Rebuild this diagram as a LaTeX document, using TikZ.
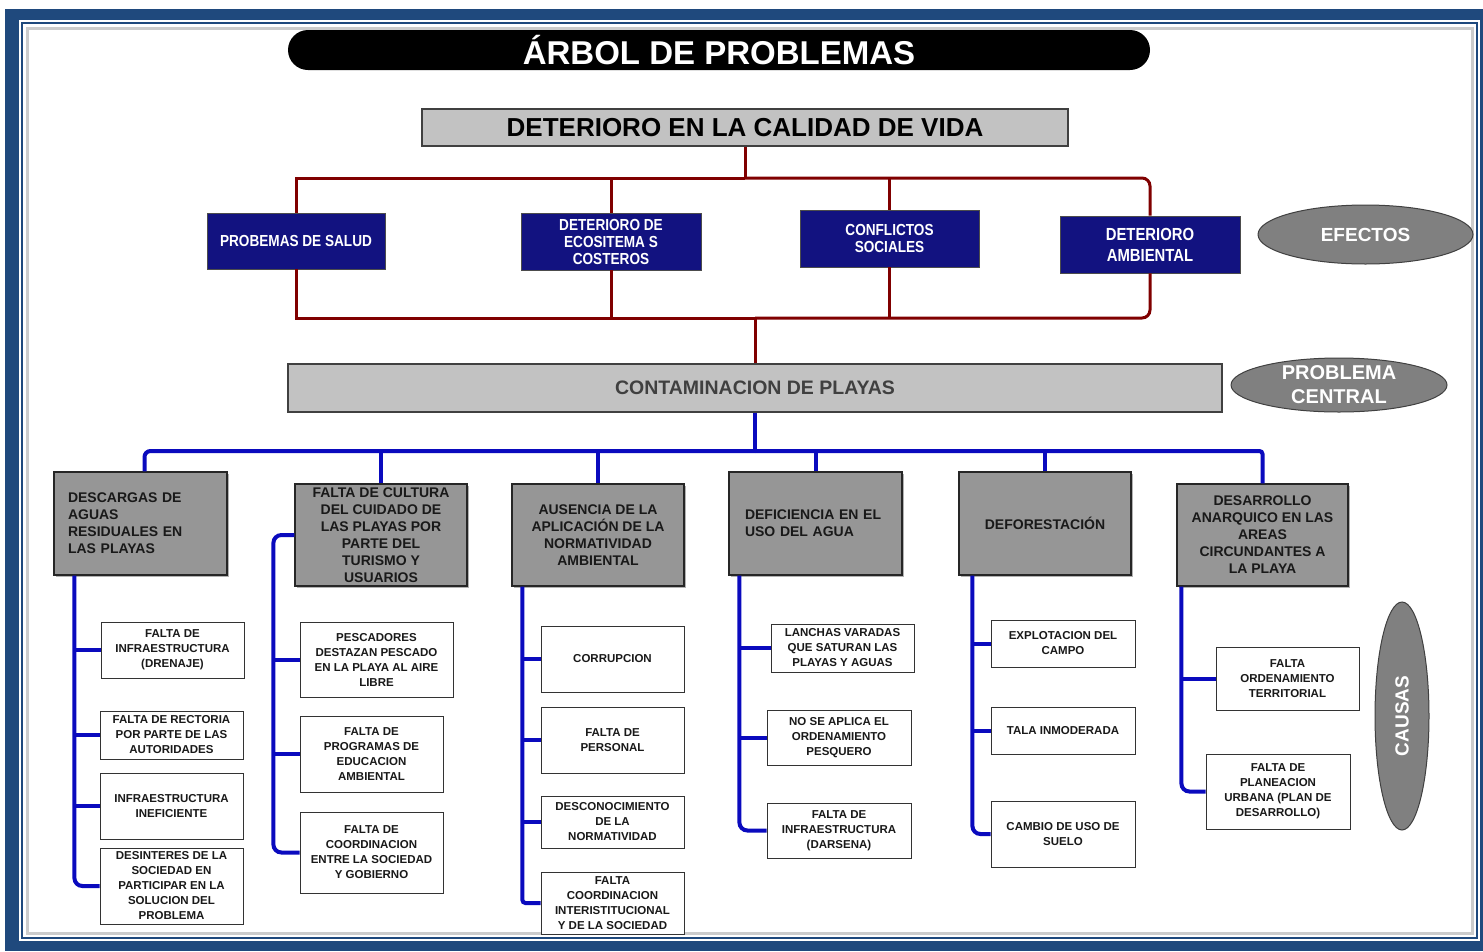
\documentclass[tikz,border=0pt]{standalone}
\usepackage{fontspec}
\setmainfont{Liberation Sans}
\newfontfamily\narrowfont[FakeStretch=0.85]{Liberation Sans}
\usetikzlibrary{shapes.geometric,shadows}
\definecolor{frameblue}{RGB}{31,73,125}
\definecolor{navybox}{RGB}{18,18,128}
\definecolor{causegray}{RGB}{150,150,150}
\definecolor{lightgrayb}{RGB}{194,194,194}
\definecolor{linered}{RGB}{128,0,0}
\definecolor{lineblue}{RGB}{10,10,190}
\definecolor{ovalgray}{RGB}{128,128,128}
\tikzset{
  effbox/.style={draw=black!70, line width=0.8pt, fill=navybox, text=white, align=center,
    font=\narrowfont\bfseries\fontsize{16}{17}\selectfont, inner sep=1pt},
  causebox/.style={draw=black!85, line width=1.2pt, fill=causegray, align=center, text=black!90,
    font=\bfseries\fontsize{14}{17}\selectfont, inner sep=1pt,
    drop shadow={shadow xshift=2pt, shadow yshift=-2pt, opacity=0.3, fill=black}},
  subbox/.style={draw=black!80, line width=1pt, fill=white, align=center, text=black!90,
    font=\bfseries\fontsize{11.5}{15}\selectfont, inner sep=1pt},
  redline/.style={draw=linered, line width=3pt},
  blueline/.style={draw=lineblue, line width=4pt},
  ovalbox/.style={ellipse, draw=black!75, line width=1pt, fill=ovalgray, inner sep=0pt},
  ovaltext/.style={text=white, align=center, inner sep=0pt}
}
\begin{document}
\begin{tikzpicture}[x=1pt,y=-1pt]
\useasboundingbox (0,0) rectangle (1483,951);
% frame
\fill[white] (0,0) rectangle (1483,951);
\fill[frameblue] (5,9) rectangle (1483,951);
\fill[white] (19,20) rectangle (1480,941);
\draw[frameblue, line width=2.5pt] (22,23) rectangle (1477,938);
\fill[white] (24,25) rectangle (1475,936);
\draw[black!20, line width=3pt] (27,28) rectangle (1472,933);

% title
\node[fill=black, rounded corners=20pt, minimum width=862, minimum height=40, text=white,
  font=\bfseries\fontsize{33}{36}\selectfont, inner sep=0pt] (title) at (719,50) {ÁRBOL DE PROBLEMAS};

% top effect
\node[draw=black!75, line width=1.2pt, fill=lightgrayb, minimum width=646, minimum height=37,
  font=\bfseries\fontsize{26}{28}\selectfont, inner sep=0pt] (top) at (745,127.5) {DETERIORO EN LA CALIDAD DE VIDA};

% effects
\node[effbox, minimum width=178, minimum height=56] (e1) at (296,241) {PROBEMAS DE SALUD};
\node[effbox, minimum width=180, minimum height=57] (e2) at (611,241.5) {DETERIORO DE\\ECOSITEMA S\\COSTEROS};
\node[effbox, minimum width=179, minimum height=57] (e3) at (889.5,238.5) {CONFLICTOS\\SOCIALES};
\node[effbox, minimum width=180, minimum height=57, font=\narrowfont\bfseries\fontsize{17.5}{21}\selectfont] (e4) at (1150,244.5) {DETERIORO\\AMBIENTAL};

% central problem
\node[draw=black!75, line width=1.2pt, fill=lightgrayb, minimum width=934, minimum height=48,
  font=\bfseries\fontsize{19.5}{22}\selectfont, text=black!75, inner sep=0pt] (central) at (755,388) {CONTAMINACION DE PLAYAS};

% ovals
\node[ovalbox, minimum width=215, minimum height=59] (ef) at (1365.5,234.5) {};
\node[ovaltext, font=\bfseries\fontsize{19}{22}\selectfont] (eft) at (ef) {EFECTOS};
\node[ovalbox, minimum width=216, minimum height=54] (pc) at (1339,385) {};
\node[ovaltext, font=\bfseries\fontsize{20}{24}\selectfont] (pct) at (pc) {PROBLEMA\\CENTRAL};
\node[ovalbox, minimum width=54, minimum height=228] (ca) at (1402,716) {};
\node[ovaltext, rotate=90, font=\bfseries\fontsize{19}{22}\selectfont] (cat) at (ca) {CAUSAS};

% causes
\node[causebox, minimum width=173, minimum height=103, text width=145, align=left] (c1) at (140.5,523.5) {DESCARGAS DE\\AGUAS\\RESIDUALES EN\\LAS PLAYAS};
\node[causebox, minimum width=172, minimum height=102] (c2) at (381,535) {FALTA DE CULTURA\\DEL CUIDADO DE\\LAS PLAYAS POR\\PARTE DEL\\TURISMO Y\\USUARIOS};
\node[causebox, minimum width=172, minimum height=102] (c3) at (598,535) {AUSENCIA DE LA\\APLICACIÓN DE LA\\NORMATIVIDAD\\AMBIENTAL};
\node[causebox, minimum width=173, minimum height=103, text width=141, align=left] (c4) at (815.5,523.5) {DEFICIENCIA EN EL\\USO DEL AGUA};
\node[causebox, minimum width=172, minimum height=103] (c5) at (1045,523.5) {DEFORESTACIÓN};
\node[causebox, minimum width=171, minimum height=102] (c6) at (1262.5,535) {DESARROLLO\\ANARQUICO EN LAS\\AREAS\\CIRCUNDANTES A\\LA PLAYA};

% sub-causes
\node[subbox, minimum width=143, minimum height=56] (s11) at (172.5,650) {FALTA DE\\INFRAESTRUCTURA\\(DRENAJE)};
\node[subbox, minimum width=143, minimum height=48] (s12) at (171.5,735) {FALTA DE RECTORIA\\POR PARTE DE LAS\\AUTORIDADES};
\node[subbox, minimum width=143, minimum height=66] (s13) at (171.5,806) {INFRAESTRUCTURA\\INEFICIENTE};
\node[subbox, minimum width=143, minimum height=76] (s14) at (171.5,886) {DESINTERES DE LA\\SOCIEDAD EN\\PARTICIPAR EN LA\\SOLUCION DEL\\PROBLEMA};

\node[subbox, minimum width=153, minimum height=75] (s21) at (376.5,659.5) {PESCADORES\\DESTAZAN PESCADO\\EN LA PLAYA AL AIRE\\LIBRE};
\node[subbox, minimum width=143, minimum height=76] (s22) at (371.5,754) {FALTA DE\\PROGRAMAS DE\\EDUCACION\\AMBIENTAL};
\node[subbox, minimum width=143, minimum height=81] (s23) at (371.5,852.5) {FALTA DE\\COORDINACION\\ENTRE LA SOCIEDAD\\Y GOBIERNO};

\node[subbox, minimum width=143, minimum height=66] (s31) at (612.5,659) {CORRUPCION};
\node[subbox, minimum width=143, minimum height=66] (s32) at (612.5,740) {FALTA DE\\PERSONAL};
\node[subbox, minimum width=143, minimum height=52] (s33) at (612.5,822) {DESCONOCIMIENTO\\DE LA\\NORMATIVIDAD};
\node[subbox, minimum width=143, minimum height=62] (s34) at (612.5,903) {FALTA\\COORDINACION\\INTERISTITUCIONAL\\Y DE LA SOCIEDAD};

\node[subbox, minimum width=143, minimum height=48] (s41) at (842.5,648) {LANCHAS VARADAS\\QUE SATURAN LAS\\PLAYAS Y AGUAS};
\node[subbox, minimum width=144, minimum height=55] (s42) at (839,737.5) {NO SE APLICA EL\\ORDENAMIENTO\\PESQUERO};
\node[subbox, minimum width=144, minimum height=55] (s43) at (839,830.5) {FALTA DE\\INFRAESTRUCTURA\\(DARSENA)};

\node[subbox, minimum width=144, minimum height=47] (s51) at (1063,643.5) {EXPLOTACION DEL\\CAMPO};
\node[subbox, minimum width=144, minimum height=47] (s52) at (1063,730.5) {TALA INMODERADA};
\node[subbox, minimum width=144, minimum height=66] (s53) at (1063,834) {CAMBIO DE USO DE\\SUELO};

\node[subbox, minimum width=143, minimum height=63] (s61) at (1287.5,678.5) {FALTA\\ORDENAMIENTO\\TERRITORIAL};
\node[subbox, minimum width=144, minimum height=75] (s62) at (1278,791.5) {FALTA DE\\PLANEACION\\URBANA (PLAN DE\\DESARROLLO)};

% red connectors (effects)
\coordinate (rt) at (745,178);
\coordinate (rb) at (755,318);
\draw[redline] (top.south) -- (rt);
\draw[redline] (e1.north) |- (rt);
\draw[redline, rounded corners=8pt] (rt) -| (e4.north);
\draw[redline] (e2.north) -- (e2.north |- rt);
\draw[redline] (e3.north) -- (e3.north |- rt);
\draw[redline] (e1.south) |- (rb);
\draw[redline, rounded corners=8pt] (rb) -| (e4.south);
\draw[redline] (e2.south) -- (e2.south |- rb);
\draw[redline] (e3.south) -- (e3.south |- rb);
\draw[redline] (rb) -- (central.north);

% blue connectors (causes)
\coordinate (bb) at (755,451);
\draw[blueline] (central.south) -- (bb);
\draw[blueline, rounded corners=6pt] ([xshift=4]c1.north) |- (bb);
\draw[blueline, rounded corners=3pt] (bb) -| (c6.north);
\draw[blueline] (c2.north) -- (c2.north |- bb);
\draw[blueline] (c3.north) -- (c3.north |- bb);
\draw[blueline] (c4.north) -- (c4.north |- bb);
\draw[blueline] (c5.north) -- (c5.north |- bb);

% column trunks
\coordinate (t1) at ([xshift=21]c1.south west);
\draw[blueline, rounded corners=8pt] (t1) |- (s14.west);
\foreach \s in {s11,s12,s13} \draw[blueline] (\s.west) -- (\s.west -| t1);

\coordinate (t2) at ([xshift=-21]c2.west);
\draw[blueline, rounded corners=8pt] (c2.west) -- (t2) |- (s23.west);
\foreach \s in {s21,s22} \draw[blueline] (\s.west) -- (\s.west -| t2);

\coordinate (t3) at ([xshift=11]c3.south west);
\draw[blueline, rounded corners=3pt] (t3) |- (s34.west);
\foreach \s in {s31,s32,s33} \draw[blueline] (\s.west) -- (\s.west -| t3);

\coordinate (t4) at ([xshift=11]c4.south west);
\draw[blueline, rounded corners=8pt] (t4) |- (s43.west);
\foreach \s in {s41,s42} \draw[blueline] (\s.west) -- (\s.west -| t4);

\coordinate (t5) at ([xshift=14]c5.south west);
\draw[blueline, rounded corners=8pt] (t5) |- (s53.west);
\foreach \s in {s51,s52} \draw[blueline] (\s.west) -- (\s.west -| t5);

\coordinate (t6) at ([xshift=5]c6.south west);
\draw[blueline, rounded corners=8pt] (t6) |- (s62.west);
\draw[blueline] (s61.west) -- (s61.west -| t6);
\end{tikzpicture}
\end{document}
